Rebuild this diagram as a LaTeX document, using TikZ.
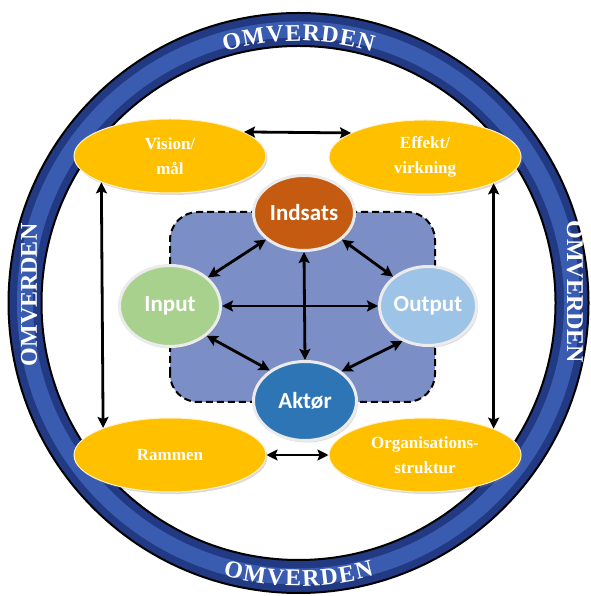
\documentclass[tikz,border=0pt]{standalone}
\usepackage{fontspec}
\setmainfont{Liberation Serif}
\newfontfamily\calib{Carlito}
\usetikzlibrary{shapes.geometric, arrows.meta, decorations.text, shadows}

\definecolor{ringblue}{RGB}{34,58,132}
\definecolor{ringlight}{RGB}{62,98,184}
\definecolor{gold}{RGB}{255,192,0}
\definecolor{panel}{RGB}{124,142,198}
\definecolor{cind}{RGB}{197,90,17}
\definecolor{cinp}{RGB}{169,209,142}
\definecolor{cout}{RGB}{157,195,230}
\definecolor{cakt}{RGB}{46,117,182}

\newcommand{\omvfont}{\bfseries\fontsize{24}{26}\selectfont\color{white}}

\begin{document}
\begin{tikzpicture}[x=1pt,y=1pt,
  goal/.style={ellipse, fill=gold, draw=white!80!gold, line width=1pt,
    minimum width=192pt, minimum height=74pt, inner sep=0pt,
    font=\bfseries\fontsize{17}{25}\selectfont, text=white, align=center,
    drop shadow={shadow xshift=1.5pt, shadow yshift=-2pt, opacity=.3}},
  core/.style={ellipse, draw=white!92!black, line width=3pt, inner sep=0pt,
    font=\calib\bfseries\fontsize{23}{26}\selectfont, text=white,
    drop shadow={shadow xshift=1.5pt, shadow yshift=-2pt, opacity=.3}},
  dbl/.style={<->, >={Stealth[length=11pt,width=11pt,inset=2pt]}, line width=2.8pt, black},
  ringtext/.style={font=\bfseries\fontsize{24}{26}\selectfont, text=white}
]
\useasboundingbox (0,0) rectangle (590,596);

% outer ring
\coordinate (C) at (298.5,293);
\fill[ringblue, even odd rule] (C) circle[radius=290] (C) circle[radius=257];
\draw[ringlight, line width=16pt, opacity=.85] (C) circle[radius=273.5];
\draw[black, line width=2pt] (C) circle[radius=290];
\draw[black, line width=2pt] (C) circle[radius=257];

% ring texts
\path[decorate, decoration={text along path, text align=center,
   text={|\omvfont|O{\kern1pt}M{\kern1pt}V{\kern1pt}E{\kern1pt}R{\kern1pt}D{\kern1pt}E{\kern1pt}N}}]
   (C) ++(125:262) arc[start angle=125, end angle=55, radius=262];
\path[decorate, decoration={text along path, text align=center,
   text={|\omvfont|O{\kern1.5pt}M{\kern1.5pt}V{\kern1.5pt}E{\kern1.5pt}R{\kern1.5pt}D{\kern1.5pt}E{\kern1.5pt}N}}]
   (C) ++(235:283) arc[start angle=235, end angle=305, radius=283];
\node[ringtext, rotate=90] (tl) at (29,301) {OMVERDEN};
\node[ringtext, rotate=-90] (tr) at (575,304) {OMVERDEN};

% dashed panel
\draw[fill=panel, line width=2pt, dash pattern=on 7pt off 4pt, rounded corners=28pt]
  (170,194) rectangle (435,384);

% outer ellipses
\node[goal] (vis) at (170,440) {Vision/\\mål};
\node[goal] (eff) at (425,439) {Effekt/\\virkning};
\node[goal] (ram) at (170,141) {Rammen};
\node[goal] (org) at (425,141) {Organisations-\\struktur};

% core ellipses
\node[core, fill=cind, minimum width=101pt, minimum height=75pt] (ind) at (304,383) {Indsats};
\node[core, fill=cinp, minimum width=101pt, minimum height=81pt] (inp) at (170,290) {Input};
\node[core, fill=cout, minimum width=97pt, minimum height=79pt] (out) at (428,290) {Output};
\node[core, fill=cakt, minimum width=103pt, minimum height=79pt] (akt) at (305,195) {Aktør};

% outer arrows
\draw[dbl] (vis.18) -- (eff.162);
\draw[dbl] (ram.east) -- (org.west);
\draw[dbl] (vis.201.6) -- (ram.158.4);
\draw[dbl] (eff.-21.6) -- (org.21.6);

% inner arrows
\draw[dbl] (ind.215) -- (inp.37);
\draw[dbl] (ind.-35) -- (out.140);
\draw[dbl] (ind.south) -- (akt.north);
\draw[dbl] (inp.east) -- (out.west);
\draw[dbl] (inp.-39) -- (akt.139);
\draw[dbl] (out.234) -- (akt.39);
\end{tikzpicture}
\end{document}
